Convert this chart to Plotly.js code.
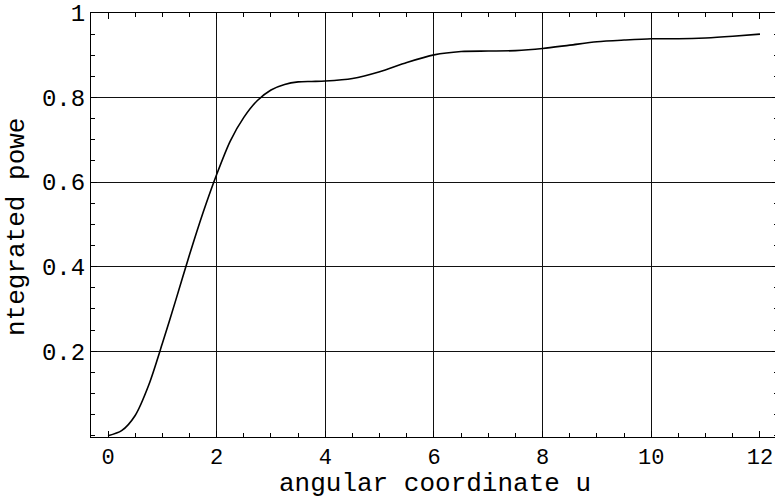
<!DOCTYPE html>
<html>
<head>
<meta charset="utf-8">
<script src="https://cdn.plot.ly/plotly-3.0.1.min.js"></script>
<style>
  html, body { margin: 0; padding: 0; overflow: hidden; background: #fff; }
  #chart { width: 778px; height: 498px; }
</style>
</head>
<body>
<div id="chart"></div>
<script>
// angular coordinate u
const u = [0, 0.25, 0.5, 0.75, 1, 1.25, 1.5, 1.75, 2, 2.25, 2.5, 2.75, 3, 3.25, 3.5, 3.75, 4,
           4.5, 5, 5.5, 6, 6.5, 7, 7.5, 8, 8.5, 9, 9.5, 10, 10.5, 11, 11.5, 12];
// integrated power
const power = [0, 0.012, 0.048, 0.12, 0.218, 0.322, 0.428, 0.528, 0.618, 0.697, 0.753, 0.793, 0.818,
               0.831, 0.837, 0.838, 0.839, 0.845, 0.861, 0.883, 0.901, 0.909, 0.910, 0.911, 0.916,
               0.924, 0.932, 0.936, 0.939, 0.939, 0.941, 0.945, 0.950];

const xTickVals = [0, 2, 4, 6, 8, 10, 12];
const xTickText = ['0', '2', '4', '6', '8', '10', '12'];
const xGridVals = [2, 4, 6, 8, 10];
const yTickVals = [0.2, 0.4, 0.6, 0.8, 1];
const yTickText = ['0.2', '0.4', '0.6', '0.8', '1'];
const yGridVals = [0.2, 0.4, 0.6, 0.8];

const xTitle = 'angular coordinate u';
const yTitle = 'ntegrated powe';

const FAMILY = '"Liberation Mono", "Courier New", monospace';
const TITLE_FONT = { family: FAMILY, size: 26, color: '#000' };
const TICK_FONT = { family: FAMILY, size: 24, color: '#000' };
const XTICK_FONT = { family: FAMILY, size: 22, color: '#000' };
const xRange = [-0.313, 12.332];
const yRange = [-0.003, 1.0];

const data = [
  {
    x: u, y: power, type: 'scatter', mode: 'lines',
    line: { color: '#000', width: 1.6, shape: 'spline', smoothing: 0.8 },
    hoverinfo: 'skip', showlegend: false
  },
  {
    x: [], y: [], xaxis: 'x2', yaxis: 'y2', type: 'scatter', mode: 'lines',
    showlegend: false, hoverinfo: 'skip'
  }
];

const layout = {
  width: 778, height: 498,
  margin: { l: 91, r: 0, t: 13, b: 61, pad: 0 },
  paper_bgcolor: '#fff', plot_bgcolor: '#fff',
  font: TICK_FONT,
  showlegend: false,
  xaxis: {
    range: xRange, tickmode: 'array', tickvals: xTickVals, ticktext: xTickText,
    ticks: 'inside', ticklen: 6, tickwidth: 1, tickcolor: '#000',
    showline: true, linecolor: '#000', linewidth: 1, mirror: 'allticks',
    showgrid: false, zeroline: false,
    minor: { tick0: 0, dtick: 0.5, ticks: 'inside', ticklen: 4, tickwidth: 1, tickcolor: '#000', showgrid: false },
    tickfont: XTICK_FONT,
    automargin: false
  },
  yaxis: {
    range: yRange, tickmode: 'array', tickvals: yTickVals, ticktext: yTickText,
    ticks: 'inside', ticklen: 6, tickwidth: 1, tickcolor: '#000',
    showline: true, linecolor: '#000', linewidth: 1, mirror: 'allticks',
    showgrid: false, zeroline: false,
    minor: { tick0: 0, dtick: 0.05, ticks: 'inside', ticklen: 4, tickwidth: 1, tickcolor: '#000', showgrid: false },
    tickfont: TICK_FONT,
    automargin: false
  },
  xaxis2: {
    overlaying: 'x', anchor: 'y2', range: xRange, tickmode: 'array', tickvals: xGridVals,
    showgrid: true, gridcolor: '#111', gridwidth: 1, showticklabels: false, ticks: '',
    showline: false, zeroline: false, layer: 'below traces'
  },
  yaxis2: {
    overlaying: 'y', anchor: 'x2', range: yRange, tickmode: 'array', tickvals: yGridVals,
    showgrid: true, gridcolor: '#111', gridwidth: 1, showticklabels: false, ticks: '',
    showline: false, zeroline: false, layer: 'below traces'
  },
  annotations: [
    {
      text: xTitle, font: TITLE_FONT, showarrow: false,
      xref: 'paper', yref: 'paper', x: (434.5 - 91) / 687, y: 0,
      xanchor: 'center', yanchor: 'middle', yshift: -47
    },
    {
      text: yTitle, font: TITLE_FONT, showarrow: false, textangle: -90,
      xref: 'paper', yref: 'paper', x: 0, y: 0.5,
      xanchor: 'center', yanchor: 'middle', xshift: -74, yshift: -2
    }
  ]
};

Plotly.newPlot('chart', data, layout, { staticPlot: true, displayModeBar: false });
</script>
</body>
</html>
